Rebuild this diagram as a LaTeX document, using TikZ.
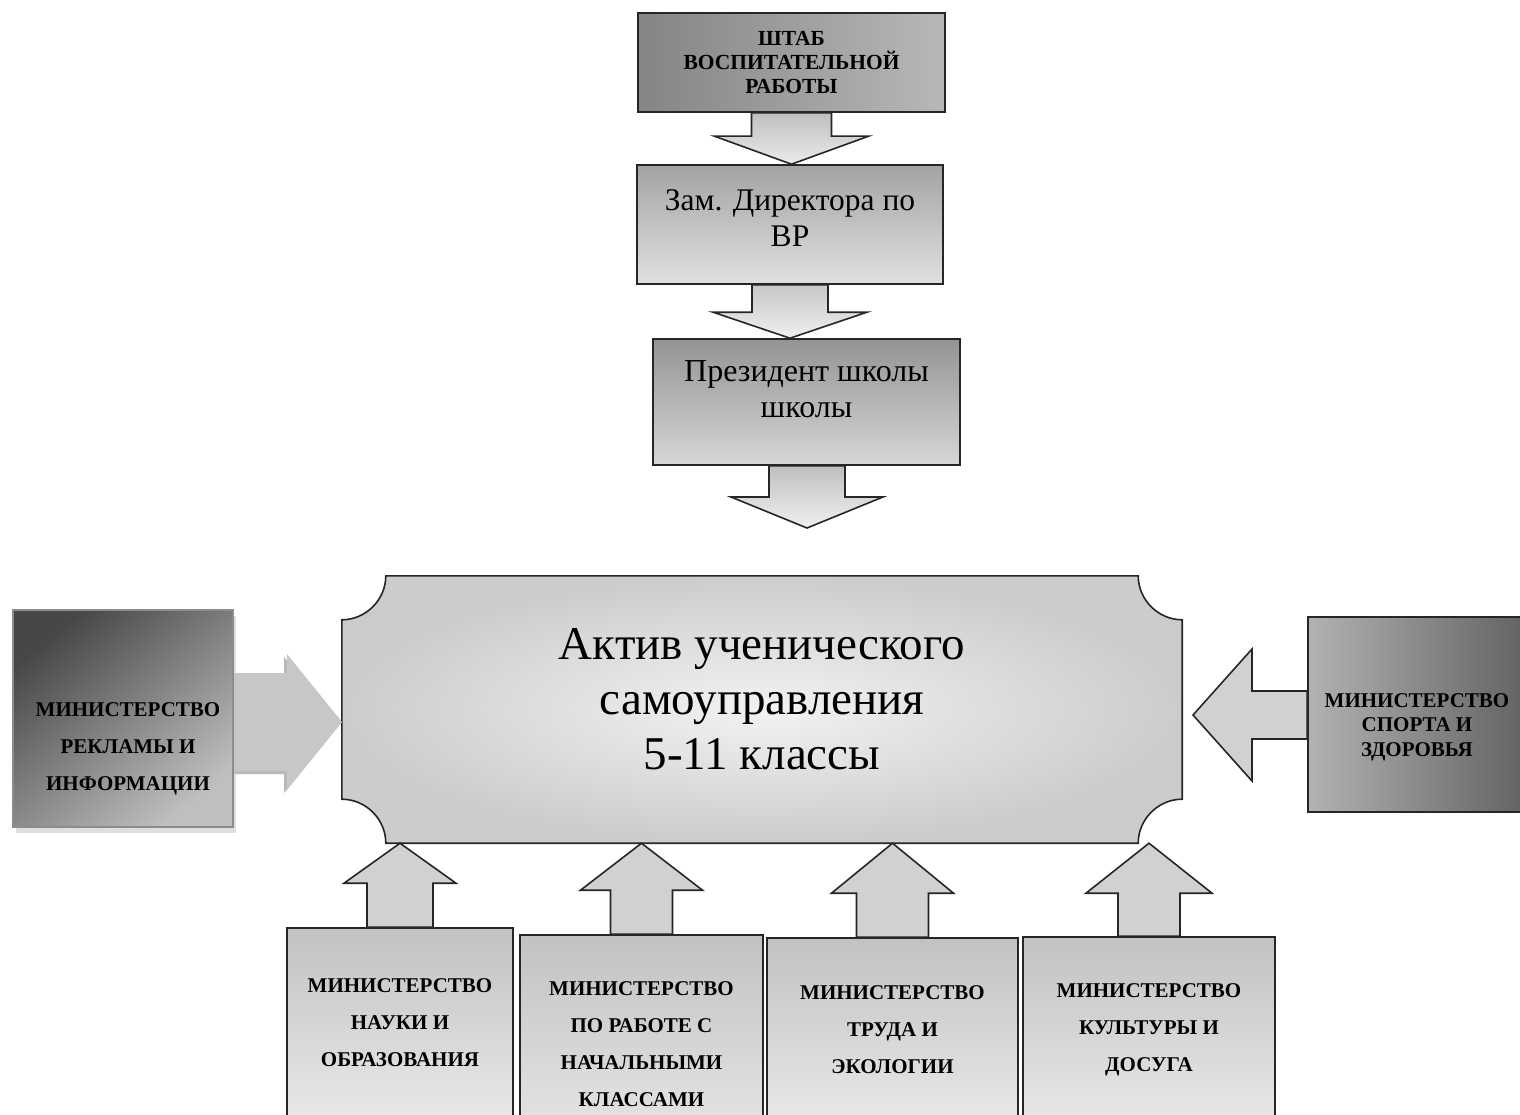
\documentclass[tikz,border=0pt]{standalone}
\usepackage{fontspec}
\setmainfont{Liberation Serif}
\usetikzlibrary{calc,backgrounds,shadows}

\tikzset{
  arrshaft/.store in=\arrshaft, arrhead/.store in=\arrhead, arrlen/.store in=\arrlen,
  arrshaft=40pt, arrhead=77pt, arrlen=25pt,
  blkdown/.style={to path={let \p1=(\tikztostart), \p2=(\tikztotarget) in
    (\x2-\arrshaft,\y1) -- (\x2-\arrshaft,\y2+\arrlen) -- (\x2-\arrhead,\y2+\arrlen) -- (\p2)
    -- (\x2+\arrhead,\y2+\arrlen) -- (\x2+\arrshaft,\y2+\arrlen) -- (\x2+\arrshaft,\y1) -- cycle}},
  blkup/.style={to path={let \p1=(\tikztostart), \p2=(\tikztotarget) in
    (\x2-\arrshaft,\y1) -- (\x2-\arrshaft,\y2-\arrlen) -- (\x2-\arrhead,\y2-\arrlen) -- (\p2)
    -- (\x2+\arrhead,\y2-\arrlen) -- (\x2+\arrshaft,\y2-\arrlen) -- (\x2+\arrshaft,\y1) -- cycle}},
  blkright/.style={to path={let \p1=(\tikztostart), \p2=(\tikztotarget) in
    (\x1,\y2+\arrshaft) -- (\x2-\arrlen,\y2+\arrshaft) -- (\x2-\arrlen,\y2+\arrhead) -- (\p2)
    -- (\x2-\arrlen,\y2-\arrhead) -- (\x2-\arrlen,\y2-\arrshaft) -- (\x1,\y2-\arrshaft) -- cycle}},
  blkleft/.style={to path={let \p1=(\tikztostart), \p2=(\tikztotarget) in
    (\x1,\y2+\arrshaft) -- (\x2+\arrlen,\y2+\arrshaft) -- (\x2+\arrlen,\y2+\arrhead) -- (\p2)
    -- (\x2+\arrlen,\y2-\arrhead) -- (\x2+\arrlen,\y2-\arrshaft) -- (\x1,\y2-\arrshaft) -- cycle}},
  box/.style={draw=black!85, line width=1.6pt, inner sep=0pt, align=center},
  topbox/.style={box, top color=black!42, bottom color=black!16},
  minbox/.style={box, top color=black!24, bottom color=black!9,
    font=\fontsize{21}{37}\selectfont\bfseries},
  mintext/.style={font=\fontsize{21}{37}\selectfont\bfseries, align=center},
  bigtext/.style={font=\fontsize{31.5}{36.5}\selectfont, align=center},
  arr/.style={draw=black!85, line width=1.6pt, fill=black!18},
}

\begin{document}
\begin{tikzpicture}[x=1pt,y=-1pt]
\useasboundingbox (0,0) rectangle (1520,1115);

% chain at the top
\node[topbox, left color=black!48, right color=black!28, minimum width=307pt, minimum height=99pt,
  font=\fontsize{21.5}{24}\selectfont\bfseries] (shtab) at (791.5,62.5) {ШТАБ\\ВОСПИТАТЕЛЬНОЙ\\РАБОТЫ};
\node[topbox, top color=black!36, bottom color=black!12, minimum width=306pt, minimum height=119pt] (zam) at (790,224.5) {};
\node[bigtext] (zam text) at (790,218) {Зам. Директора по\\ВР};
\node[topbox, minimum width=307pt, minimum height=126pt] (prez) at (806.5,402) {};
\node[bigtext, font=\fontsize{32}{36.5}\selectfont] (prez text) at (806.5,389) {Президент школы\\школы};
\coordinate (prez tip) at (807,528);

% central plaque
\node[inner sep=0pt, minimum width=840pt, minimum height=267pt] (aktiv) at (762,709.5) {};
\node[align=center, font=\fontsize{47}{55}\selectfont] (aktiv text) at (762,699.5) {Актив ученического\\самоуправления\\5-11 классы};

% side ministries
\node[box, draw=black!45, line width=1.2pt, minimum width=220pt, minimum height=217pt,
  top color=black!72, bottom color=black!25, shading angle=40,
  drop shadow={shadow xshift=3pt, shadow yshift=-6pt, fill=black!25}] (reklama) at (123,718.5) {};
\node[mintext] (reklama text) at (128,749) {МИНИСТЕРСТВО\\РЕКЛАМЫ И\\ИНФОРМАЦИИ};
\coordinate (reklama tip) at (342,722);

\node[box, minimum width=222pt, minimum height=195pt, left color=black!30, right color=black!62] (sport) at (1419,714.5) {};
\node[mintext, font=\fontsize{21}{24.5}\selectfont\bfseries] (sport text) at (1417,727) {МИНИСТЕРСТВО\\СПОРТА И\\ЗДОРОВЬЯ};
\coordinate (sport tip) at (1193,715);

% bottom ministries
\node[minbox, minimum width=226pt, minimum height=189pt] (nauka) at (400,1022.5) {МИНИСТЕРСТВО\\НАУКИ И\\ОБРАЗОВАНИЯ};
\node[minbox, minimum width=243pt, minimum height=218pt] (nachal) at (641.5,1044) {МИНИСТЕРСТВО\\ПО РАБОТЕ С\\НАЧАЛЬНЫМИ\\КЛАССАМИ};
\node[minbox, minimum width=251pt, minimum height=184pt] (trud) at (892.5,1030) {МИНИСТЕРСТВО\\ТРУДА И\\ЭКОЛОГИИ};
\node[minbox, minimum width=252pt, minimum height=186pt] (kultura) at (1149,1030) {МИНИСТЕРСТВО\\КУЛЬТУРЫ И\\ДОСУГА};

\begin{scope}[on background layer]
\shadedraw[draw=black!85, line width=1.6pt, inner color=black!5, outer color=black!20]
  let \p1=(aktiv.north west), \p2=(aktiv.south east) in
  (\x1+44pt,\y1) -- (\x2-44pt,\y1) .. controls (\x2-44pt,\y1-24pt) and (\x2-24pt,\y1-44pt) .. (\x2,\y1-44pt)
  -- (\x2,\y2+44pt) .. controls (\x2-24pt,\y2+44pt) and (\x2-44pt,\y2+24pt) .. (\x2-44pt,\y2)
  -- (\x1+44pt,\y2) .. controls (\x1+44pt,\y2+24pt) and (\x1+24pt,\y2+44pt) .. (\x1,\y2+44pt)
  -- (\x1,\y1-44pt) .. controls (\x1+24pt,\y1-44pt) and (\x1+44pt,\y1-24pt) .. (\x1+44pt,\y1) -- cycle;

\draw[arr, top color=black!25, bottom color=black!8, blkdown, arrshaft=40pt, arrhead=77pt, arrlen=28pt]
  (shtab.south) to (zam.north -| shtab.south);
\draw[arr, top color=black!22, bottom color=black!6, blkdown, arrshaft=38pt, arrhead=77pt, arrlen=26pt]
  (zam.south) to (prez.north -| zam.south);
\draw[arr, top color=black!25, bottom color=black!6, blkdown, arrshaft=38pt, arrhead=76pt, arrlen=31pt]
  (prez.south) to (prez tip);

\path[fill=black!22, blkright, arrshaft=49pt, arrhead=68pt, arrlen=55pt,
  drop shadow={shadow xshift=-3pt, shadow yshift=-3pt, fill=black!55}]
  (reklama.east) to (reklama tip);
\draw[arr, blkleft, arrshaft=24pt, arrhead=66pt, arrlen=59pt] (sport.west) to (sport tip);

\draw[arr, blkup, arrshaft=33pt, arrhead=56pt, arrlen=40pt] (nauka.north) to (aktiv.south -| nauka.north);
\draw[arr, blkup, arrshaft=31pt, arrhead=61pt, arrlen=47pt] (nachal.north) to (aktiv.south -| nachal.north);
\draw[arr, blkup, arrshaft=36pt, arrhead=61pt, arrlen=50pt] (trud.north) to (aktiv.south -| trud.north);
\draw[arr, blkup, arrshaft=31pt, arrhead=63pt, arrlen=50pt] (kultura.north) to (aktiv.south -| kultura.north);
\end{scope}
\end{tikzpicture}
\end{document}
